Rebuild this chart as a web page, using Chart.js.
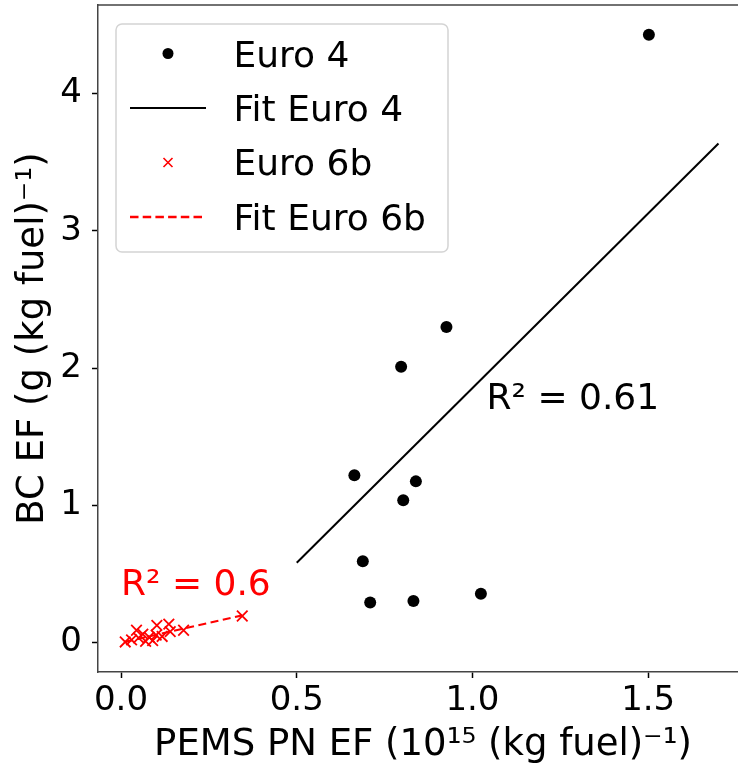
<!DOCTYPE html>
<html><head><meta charset="utf-8">
<script src="https://cdn.jsdelivr.net/npm/chart.js@4.4.0/dist/chart.umd.min.js"></script>
<style>
html,body{margin:0;padding:0;overflow:hidden;background:#fff;width:738px;height:770px}
#wrap{width:750px;height:770px;position:relative}
</style>
</head><body><div id="wrap"><canvas id="c" width="750" height="770"></canvas></div>
<script>
const euro4X = [1.502, 0.926, 0.797, 0.664, 0.839, 0.803, 0.688, 0.709, 0.832, 1.024];
const euro4Y = [4.43, 2.30, 2.01, 1.22, 1.175, 1.037, 0.593, 0.292, 0.303, 0.357];
const fit4X = [0.5, 1.7];
const fit4Y = [0.582, 3.637];
const euro6bX = [0.012, 0.030, 0.044, 0.050, 0.062, 0.070, 0.080, 0.090, 0.102, 0.100, 0.117, 0.136, 0.140, 0.178, 0.345];
const euro6bY = [0.005, 0.020, 0.090, 0.035, 0.062, 0.010, 0.040, 0.015, 0.126, 0.055, 0.045, 0.135, 0.080, 0.090, 0.194];
const fit6bX = [0.012, 0.345];
const fit6bY = [0.006, 0.199];
const xTicks = [0.0, 0.5, 1.0, 1.5];
const yTicks = [0, 1, 2, 3, 4];
const xRange = [-0.0655, 1.784];
const yRange = [-0.214, 4.646];
const legendLabels = ['Euro 4', 'Fit Euro 4', 'Euro 6b', 'Fit Euro 6b'];
const annTexts = ['R² = 0.61', 'R² = 0.6'];
const annX = [1.04, 0.0];
const annY = [1.70, 0.345];
const annColors = ['#000000', '#ff0000'];
const xTitle = 'PEMS PN EF (10¹⁵ (kg fuel)⁻¹)';
const yTitle = 'BC EF (g (kg fuel)⁻¹)';

const FONT = "'DejaVu Sans', sans-serif";
const RED = '#ff0000';
const pts = (xs, ys) => xs.map((x, i) => ({x: x, y: ys[i]}));

const framePlugin = {
  id: 'frame',
  afterDatasetsDraw(chart) {
    const {ctx, chartArea: a} = chart;
    ctx.save();
    ctx.strokeStyle = '#444';
    ctx.lineWidth = 1.5;
    ctx.beginPath();
    ctx.moveTo(a.left, a.top); ctx.lineTo(a.right, a.top); ctx.lineTo(a.right, a.bottom);
    ctx.stroke();
    ctx.restore();
  }
};

const annPlugin = {
  id: 'ann',
  afterDatasetsDraw(chart) {
    const {ctx, scales} = chart;
    ctx.save();
    ctx.font = '36px ' + FONT;
    ctx.textAlign = 'left';
    ctx.textBaseline = 'alphabetic';
    annTexts.forEach((t, i) => {
      ctx.fillStyle = annColors[i];
      ctx.fillText(t, scales.x.getPixelForValue(annX[i]), scales.y.getPixelForValue(annY[i]));
    });
    ctx.restore();
  }
};

const legendPlugin = {
  id: 'customLegend',
  afterDraw(chart) {
    const {ctx} = chart;
    const bx = 116, by = 24, bw = 332, bh = 228;
    ctx.save();
    ctx.beginPath();
    ctx.roundRect(bx, by, bw, bh, 6);
    ctx.fillStyle = 'rgba(255,255,255,0.85)';
    ctx.fill();
    ctx.strokeStyle = '#d4d4d4';
    ctx.lineWidth = 1.5;
    ctx.stroke();
    const rows = [53.5, 108, 162.5, 217];
    const sx0 = 130, sx1 = 206, sc = 168;
    ctx.fillStyle = '#000';
    ctx.beginPath(); ctx.arc(sc, rows[0], 5.5, 0, Math.PI * 2); ctx.fill();
    ctx.strokeStyle = '#000'; ctx.lineWidth = 2;
    ctx.beginPath(); ctx.moveTo(sx0, rows[1]); ctx.lineTo(sx1, rows[1]); ctx.stroke();
    ctx.strokeStyle = RED; ctx.lineWidth = 1.6;
    const h = 4.5;
    ctx.beginPath();
    ctx.moveTo(sc - h, rows[2] - h); ctx.lineTo(sc + h, rows[2] + h);
    ctx.moveTo(sc - h, rows[2] + h); ctx.lineTo(sc + h, rows[2] - h);
    ctx.stroke();
    ctx.lineWidth = 2.4; ctx.setLineDash([8.5, 4.2]);
    ctx.beginPath(); ctx.moveTo(sx0, rows[3]); ctx.lineTo(sx1, rows[3]); ctx.stroke();
    ctx.setLineDash([]);
    ctx.fillStyle = '#000';
    ctx.font = '36px ' + FONT;
    ctx.textAlign = 'left';
    ctx.textBaseline = 'alphabetic';
    const baselines = [66.5, 121, 175.3, 229.7];
    legendLabels.forEach((t, i) => ctx.fillText(t, 233.5, baselines[i]));
    ctx.restore();
  }
};

new Chart(document.getElementById('c'), {
  type: 'scatter',
  data: {
    datasets: [
      {label: legendLabels[0], data: pts(euro4X, euro4Y), pointStyle: 'circle', pointRadius: 6,
       backgroundColor: '#000', borderColor: '#000', borderWidth: 0, showLine: false},
      {label: legendLabels[1], data: pts(fit4X, fit4Y), showLine: true, borderColor: '#000',
       borderWidth: 2, pointRadius: 0, fill: false},
      {label: legendLabels[2], data: pts(euro6bX, euro6bY), pointStyle: 'crossRot', pointRadius: 7.5,
       borderColor: RED, backgroundColor: RED, borderWidth: 1.8, showLine: false},
      {label: legendLabels[3], data: pts(fit6bX, fit6bY), showLine: true, borderColor: RED,
       borderWidth: 2.2, borderDash: [8, 4.5], pointRadius: 0, fill: false}
    ]
  },
  options: {
    responsive: false, animation: false, devicePixelRatio: 1,
    layout: {autoPadding: false, padding: {top: 5, right: 2, left: 0, bottom: 0}},
    plugins: {legend: {display: false}, tooltip: {enabled: false}},
    scales: {
      x: {
        type: 'linear', min: xRange[0], max: xRange[1],
        afterBuildTicks: s => { s.ticks = xTicks.map(v => ({value: v})); },
        afterFit: s => { s.height = 98; s.paddingLeft = 0; s.paddingRight = 0; },
        ticks: {font: {family: FONT, size: 34}, color: '#000', padding: 3, maxRotation: 0, autoSkip: false,
                callback: v => Number(v).toFixed(1)},
        grid: {drawOnChartArea: false, drawTicks: true, tickLength: 6, tickColor: '#000', tickWidth: 1.5},
        border: {display: true, color: '#444', width: 1.5},
        title: {display: true, text: xTitle, color: '#000', font: {family: FONT, size: 37},
                padding: {top: 0, bottom: 2}}
      },
      y: {
        type: 'linear', min: yRange[0], max: yRange[1],
        afterBuildTicks: s => { s.ticks = yTicks.map(v => ({value: v})); },
        afterFit: s => { s.width = 98; s.paddingTop = 0; s.paddingBottom = 0; },
        ticks: {font: {family: FONT, size: 34}, color: '#000', padding: 10, autoSkip: false,
                callback: v => String(v)},
        grid: {drawOnChartArea: false, drawTicks: true, tickLength: 6, tickColor: '#000', tickWidth: 1.5},
        border: {display: true, color: '#444', width: 1.5},
        title: {display: true, text: yTitle, color: '#000', font: {family: FONT, size: 37},
                padding: {top: 11, bottom: 0}}
      }
    }
  },
  plugins: [framePlugin, annPlugin, legendPlugin]
});
</script>
</body></html>
